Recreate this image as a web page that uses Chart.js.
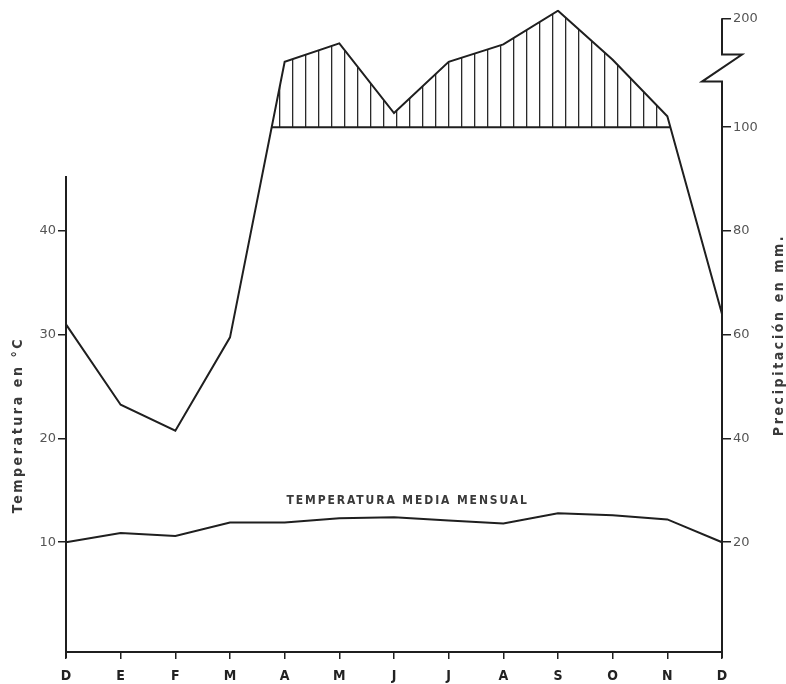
<!DOCTYPE html>
<html lang="es">
<head>
<meta charset="UTF-8" />
<title>Climograma</title>
<script src="https://cdn.jsdelivr.net/npm/chart.js"></script>
<style>
  html, body { margin: 0; padding: 0; background: #fff; }
  #wrap { width: 786px; height: 684px; }
</style>
</head>
<body>
<div id="wrap"><canvas id="chart" width="786" height="684"></canvas></div>
<script>
// months from December to December
const months = ['D', 'E', 'F', 'M', 'A', 'M', 'J', 'J', 'A', 'S', 'O', 'N', 'D'];
const tempValues = [10.0, 10.9, 10.6, 11.9, 11.9, 12.3, 12.4, 12.1, 11.8, 12.8, 12.6, 12.2, 10.0];
const precipValues = [62, 46.5, 41.5, 59.5, 160, 177, 113, 160, 176, 207, 162, 110, 64];
const tempTicks = [10, 20, 30, 40];
const precipTicks = [20, 40, 60, 80, 100, 200];

// 20 mm = 10 °C up to 100 mm, compressed scale above it
const UPPER = 0.105;
function toDisplay(p) {
  return p <= 100 ? p / 2 : 50 + (p - 100) * UPPER;
}

const Y_MIN = -0.58;
const Y_MAX = 61.32;
const ink = '#1f1f1f';
const textColor = '#3a3a3a';

const canvas = document.getElementById('chart');
const ctx = canvas.getContext('2d');

// vertical hatching for the part above 100 mm
const hatchCanvas = document.createElement('canvas');
hatchCanvas.width = 13;
hatchCanvas.height = 4;
const hctx = hatchCanvas.getContext('2d');
hctx.fillStyle = '#2a2a2a';
hctx.fillRect(6, 0, 1.3, 4);
const hatch = ctx.createPattern(hatchCanvas, 'repeat');

function baseCrossings(chart) {
  const pts = chart.getDatasetMeta(1).data;
  const base = chart.scales.y.getPixelForValue(toDisplay(100));
  const cross = [];
  for (let i = 0; i < pts.length - 1; i++) {
    const a = pts[i], b = pts[i + 1];
    if ((a.y - base) * (b.y - base) < 0) {
      const t = (base - a.y) / (b.y - a.y);
      cross.push(a.x + t * (b.x - a.x));
    }
  }
  return { base, cross };
}

const decorPlugin = {
  id: 'decor',
  afterDatasetsDraw(chart) {
    // wipe the fill edge left where the line stays under 100 mm
    const { base, cross } = baseCrossings(chart);
    if (cross.length < 2) return;
    const c = chart.ctx;
    c.save();
    c.strokeStyle = '#fff';
    c.lineWidth = 2;
    c.beginPath();
    c.moveTo(chart.chartArea.left + 1, base);
    c.lineTo(cross[0] - 3, base);
    c.moveTo(cross[cross.length - 1] + 3, base);
    c.lineTo(chart.chartArea.right - 1, base);
    c.stroke();
    c.restore();
  },
  afterDraw(chart) {
    const c = chart.ctx;
    const y = chart.scales.y;
    const x = chart.scales.x;
    const area = chart.chartArea;
    const xl = area.left, xr = area.right;
    const yBottom = area.bottom;

    c.save();
    c.strokeStyle = ink;
    c.lineWidth = 2;

    // left axis (starts a bit above 40)
    c.beginPath();
    c.moveTo(xl, y.getPixelForValue(45.3));
    c.lineTo(xl, yBottom + 6);
    c.stroke();

    // right axis with break
    const yLow = y.getPixelForValue(54.4);
    const yHigh = y.getPixelForValue(57.0);
    const y200 = y.getPixelForValue(toDisplay(200));
    c.beginPath();
    c.moveTo(xr, yBottom + 6);
    c.lineTo(xr, yLow);
    c.lineTo(xr - 20, yLow);
    c.lineTo(xr + 20, yHigh);
    c.lineTo(xr, yHigh);
    c.lineTo(xr, y200);
    c.stroke();

    // 100 mm base line under the hatching
    const { base, cross } = baseCrossings(chart);
    if (cross.length >= 2) {
      c.lineWidth = 1.8;
      c.beginPath();
      c.moveTo(cross[0], base);
      c.lineTo(cross[cross.length - 1], base);
      c.stroke();
    }

    // texts
    c.fillStyle = textColor;
    c.textAlign = 'center';
    c.textBaseline = 'middle';

    c.font = "bold 14px 'DejaVu Sans Condensed', 'DejaVu Sans', sans-serif";
    c.letterSpacing = '2.6px';
    c.save();
    c.translate(18, 425);
    c.rotate(-Math.PI / 2);
    c.fillText('Temperatura en °C', 0, 0);
    c.restore();

    c.save();
    c.translate(779, 335);
    c.rotate(-Math.PI / 2);
    c.fillText('Precipitación en mm.', 0, 0);
    c.restore();

    c.font = "bold 12px 'DejaVu Sans Condensed', 'DejaVu Sans', sans-serif";
    c.letterSpacing = '1.9px';
    c.fillText('TEMPERATURA MEDIA MENSUAL', x.getPixelForValue(6.25), y.getPixelForValue(14.0));
    c.restore();
  }
};

new Chart(canvas, {
  type: 'line',
  data: {
    labels: months,
    datasets: [
      {
        label: 'Temperatura media mensual',
        data: tempValues,
        yAxisID: 'y',
        borderColor: ink,
        borderWidth: 2,
        pointRadius: 0,
        fill: false,
        tension: 0
      },
      {
        label: 'Precipitación',
        data: precipValues.map(toDisplay),
        yAxisID: 'y',
        borderColor: ink,
        borderWidth: 2,
        pointRadius: 0,
        tension: 0,
        fill: { target: { value: toDisplay(100) }, above: hatch, below: 'rgba(0,0,0,0)' }
      },
      {
        label: 'scale',
        data: [],
        yAxisID: 'y2'
      }
    ]
  },
  options: {
    responsive: false,
    devicePixelRatio: 1,
    animation: false,
    layout: { padding: 0 },
    plugins: {
      legend: { display: false },
      tooltip: { enabled: false }
    },
    scales: {
      x: {
        offset: false,
        afterFit: s => { s.height = 32; },
        border: { display: true, color: ink, width: 2 },
        grid: { drawOnChartArea: false, tickLength: 7, color: ink, lineWidth: 1.5 },
        ticks: {
          autoSkip: false,
          maxRotation: 0,
          padding: 9,
          color: '#222',
          font: { family: "'DejaVu Sans Condensed', 'DejaVu Sans', sans-serif", size: 14, weight: 'bold' }
        }
      },
      y: {
        position: 'left',
        min: Y_MIN,
        max: Y_MAX,
        afterFit: s => { s.width = 66; },
        afterBuildTicks: s => { s.ticks = tempTicks.map(v => ({ value: v })); },
        border: { display: false },
        grid: { drawOnChartArea: false, tickLength: 8, color: ink, lineWidth: 1.5 },
        ticks: {
          padding: 2,
          color: '#555',
          font: { family: "'DejaVu Sans', sans-serif", size: 13 }
        }
      },
      y2: {
        position: 'right',
        min: Y_MIN,
        max: Y_MAX,
        afterFit: s => { s.width = 64; },
        afterBuildTicks: s => { s.ticks = precipTicks.map(p => ({ value: toDisplay(p) })); },
        border: { display: false },
        grid: { drawOnChartArea: false, tickLength: 9, color: ink, lineWidth: 1.5 },
        ticks: {
          padding: 2,
          color: '#555',
          font: { family: "'DejaVu Sans', sans-serif", size: 13 },
          callback: (v, i) => precipTicks[i]
        }
      }
    }
  },
  plugins: [decorPlugin]
});
</script>
</body>
</html>
